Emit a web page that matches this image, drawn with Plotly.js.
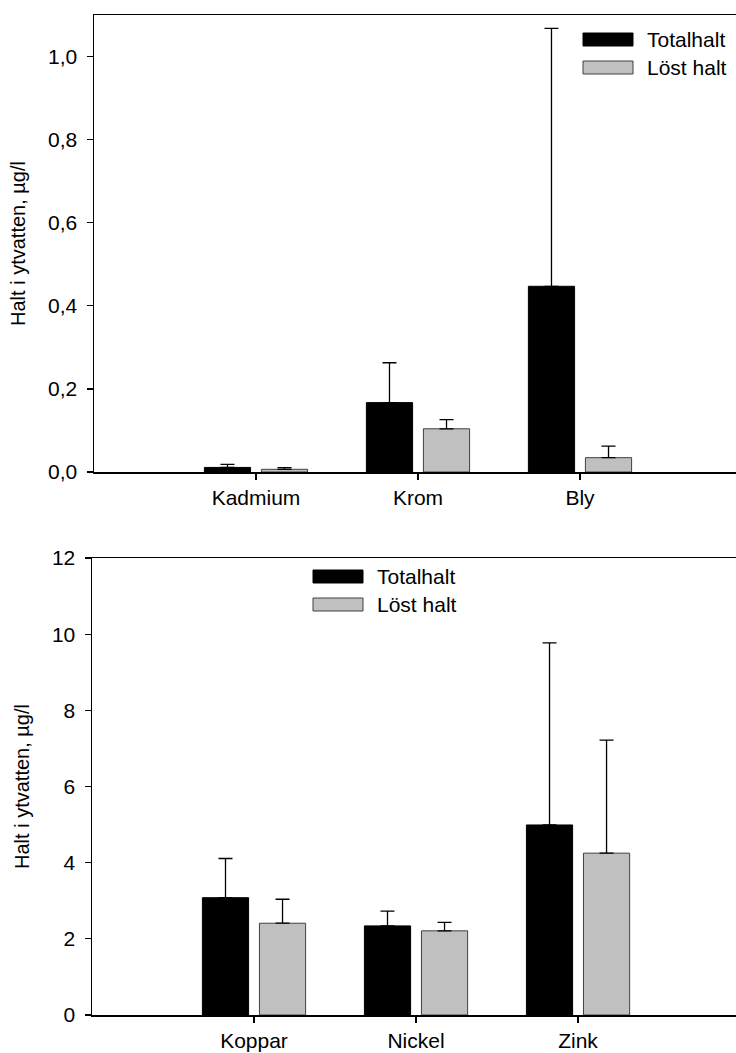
<!DOCTYPE html>
<html>
<head>
<meta charset="utf-8">
<script src="https://cdn.plot.ly/plotly-3.0.1.min.js"></script>
<style>html,body{margin:0;padding:0;background:#fff;overflow:hidden}</style>
</head>
<body>
<div id="chart" style="width:736px;height:1053px"></div>
<script>
// Top panel
var topCats = ["Kadmium", "Krom", "Bly"];
var topTotal = [0.011, 0.167, 0.447];
var topTotalErr = [0.0075, 0.096, 0.621];
var topLost = [0.0065, 0.104, 0.0345];
var topLostErr = [0.0039, 0.022, 0.028];
var topTicks = [0, 0.2, 0.4, 0.6, 0.8, 1.0];

// Bottom panel
var botCats = ["Koppar", "Nickel", "Zink"];
var botTotal = [3.08, 2.34, 4.99];
var botTotalErr = [1.03, 0.39, 4.78];
var botLost = [2.41, 2.21, 4.25];
var botLostErr = [0.63, 0.22, 2.97];
var botTicks = [0, 2, 4, 6, 8, 10, 12];

var seriesNames = ["Totalhalt", "Löst halt"];
var yTitle = "Halt i ytvatten, µg/l";

var W = 736, H = 1053;
function px(x) { return x / W; }
function py(y) { return (H - y) / H; }

var FONT = "Liberation Sans, Arial, sans-serif";
var BLACK = "#000000", GRAY = "#c0c0c0", GRAYEDGE = "#404040";

function zeros(n) { var a = []; for (var i = 0; i < n; i++) a.push(0); return a; }

function barTrace(cats, vals, errs, name, fill, edge, xa, ya) {
  return {
    type: "bar", x: cats, y: vals, name: name, xaxis: xa, yaxis: ya,
    showlegend: false,
    marker: { color: fill, line: { color: edge, width: 1 } },
    error_y: { type: "data", symmetric: false, array: errs, arrayminus: zeros(errs.length),
               color: BLACK, thickness: 1.3, width: 7 }
  };
}

var data = [
  barTrace(topCats, topTotal, topTotalErr, seriesNames[0], BLACK, BLACK, "x", "y"),
  barTrace(topCats, topLost, topLostErr, seriesNames[1], GRAY, GRAYEDGE, "x", "y"),
  barTrace(botCats, botTotal, botTotalErr, seriesNames[0], BLACK, BLACK, "x2", "y2"),
  barTrace(botCats, botLost, botLostErr, seriesNames[1], GRAY, GRAYEDGE, "x2", "y2")
];

var axisCommon = {
  showline: true, linecolor: BLACK, linewidth: 1.5,
  ticks: "outside", ticklen: 6, tickwidth: 1.3, tickcolor: BLACK,
  showgrid: false, zeroline: false,
  tickfont: { family: FONT, size: 21, color: BLACK }
};

function ax(extra) { var o = JSON.parse(JSON.stringify(axisCommon)); for (var k in extra) o[k] = extra[k]; return o; }

// legend swatches + labels (drawn manually)
var shapes = [], annotations = [];
function legend(x0, yTop1, yTop2) {
  shapes.push({ type: "rect", xref: "paper", yref: "paper", x0: px(x0), x1: px(x0 + 50), y0: py(yTop1 + 13), y1: py(yTop1),
                fillcolor: BLACK, line: { color: BLACK, width: 1 } });
  shapes.push({ type: "rect", xref: "paper", yref: "paper", x0: px(x0), x1: px(x0 + 50), y0: py(yTop2 + 13), y1: py(yTop2),
                fillcolor: GRAY, line: { color: GRAYEDGE, width: 1 } });
  annotations.push({ xref: "paper", yref: "paper", x: px(x0 + 62), y: py(yTop1 + 6.5), text: seriesNames[0],
                     showarrow: false, xanchor: "left", yanchor: "middle", font: { family: FONT, size: 21, color: BLACK } });
  annotations.push({ xref: "paper", yref: "paper", x: px(x0 + 62), y: py(yTop2 + 6.5), text: seriesNames[1],
                     showarrow: false, xanchor: "left", yanchor: "middle", font: { family: FONT, size: 21, color: BLACK } });
}
legend(583, 33, 61);
legend(313, 570, 598);

var layout = {
  width: W, height: H,
  margin: { l: 0, r: 0, t: 0, b: 0 },
  paper_bgcolor: "#ffffff", plot_bgcolor: "#ffffff",
  separators: ", ",
  barmode: "group", bargap: 0.296, bargroupgap: 0.19,
  font: { family: FONT, size: 21, color: BLACK },
  xaxis: ax({ domain: [px(94), 1], range: [-1, 2.963], mirror: true, type: "category",
              anchor: "y" }),
  yaxis: ax({ domain: [py(472), py(15)], range: [0, 1.1], tickvals: topTicks, tickformat: ".1f",
              anchor: "x", ticklabelstandoff: 5,
              title: { text: yTitle, standoff: 17, font: { family: FONT, size: 20, color: BLACK } } }),
  xaxis2: ax({ domain: [px(92), 1], range: [-1, 2.975], mirror: true, type: "category",
               anchor: "y2" }),
  yaxis2: ax({ domain: [py(1015), py(558)], range: [0, 12], tickvals: botTicks,
               anchor: "x2", ticklabelstandoff: 5,
               title: { text: yTitle, standoff: 17, font: { family: FONT, size: 20, color: BLACK } } }),
  shapes: shapes,
  annotations: annotations
};

Plotly.newPlot("chart", data, layout, { staticPlot: true, displayModeBar: false });
</script>
</body>
</html>
